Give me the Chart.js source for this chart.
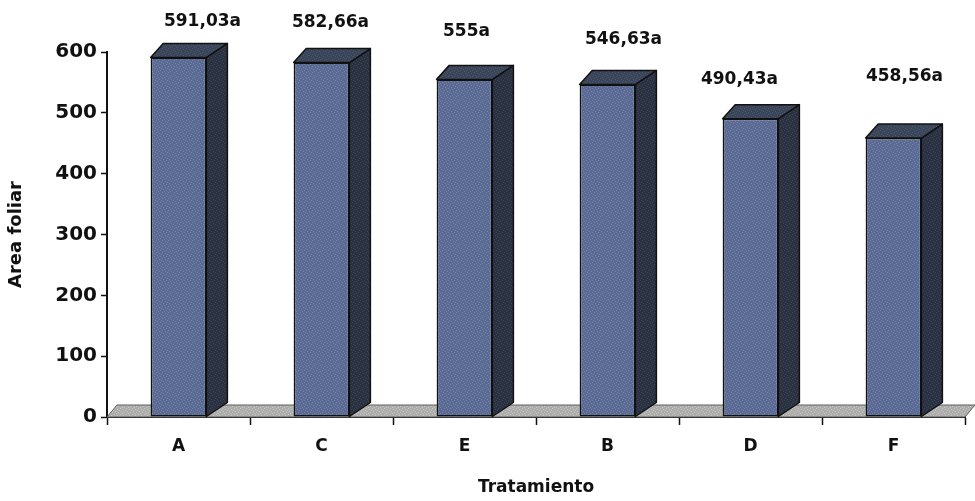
<!DOCTYPE html>
<html>
<head>
<meta charset="utf-8">
<script src="https://cdn.jsdelivr.net/npm/chart.js@4.4.1/dist/chart.umd.min.js"></script>
<style>
  html, body { margin: 0; padding: 0; background: #fff; }
  #wrap { width: 975px; height: 501px; }
</style>
</head>
<body>
<div id="wrap"><canvas id="chart"></canvas></div>
<script>
/* ── data ─────────────────────────────────────────────── */
const tratamientos = ["A", "C", "E", "B", "D", "F"];
const areaFoliar = [591.03, 582.66, 555, 546.63, 490.43, 458.56];
const letras = ["a", "a", "a", "a", "a", "a"];
const yTicks = [0, 100, 200, 300, 400, 500, 600];

const FONT = "'DejaVu Sans', 'Liberation Sans', Arial, sans-serif";

// "591,03a" style labels (comma decimal)
function fmtLabel(v, l) {
  return String(v).replace(".", ",") + l;
}

// small stippled fill so the faces aren't flat
function stipple(base, dot) {
  const c = document.createElement("canvas");
  c.width = 6;
  c.height = 6;
  const g = c.getContext("2d");
  g.fillStyle = base;
  g.fillRect(0, 0, 6, 6);
  g.fillStyle = dot;
  [[0, 0], [3, 1], [1, 3], [4, 4], [5, 2], [2, 5]].forEach(([x, y]) => g.fillRect(x, y, 1, 1));
  return g.createPattern(c, "repeat");
}

/* ── pseudo-3D: floor + side/top faces, value labels ─── */
const box3d = {
  id: "box3d",
  beforeDatasetsDraw(chart, args, opts) {
    const { ctx, chartArea } = chart;
    const yScale = chart.scales.y;
    const y0 = yScale.getPixelForValue(0);
    const fdx = opts.floorDx, fdy = opts.floorDy;

    ctx.save();
    // floor slab
    ctx.beginPath();
    ctx.moveTo(chartArea.left, y0);
    ctx.lineTo(chartArea.right, y0);
    ctx.lineTo(chartArea.right + fdx, y0 + fdy);
    ctx.lineTo(chartArea.left + fdx, y0 + fdy);
    ctx.closePath();
    ctx.fillStyle = stipple("#adadab", "#c8c8c6");
    ctx.fill();
    ctx.strokeStyle = "#5e5e5e";
    ctx.lineWidth = 1;
    ctx.stroke();

    // side + top faces of each bar
    const meta = chart.getDatasetMeta(0);
    const dx = opts.depthDx, dy = opts.depthDy;
    ctx.lineWidth = 1.5;
    ctx.strokeStyle = "#111";
    ctx.lineJoin = "round";
    meta.data.forEach((el) => {
      const p = el.getProps(["x", "y", "base", "width"], true);
      const l = p.x - p.width / 2, r = p.x + p.width / 2;
      // side
      ctx.beginPath();
      ctx.moveTo(r, p.y);
      ctx.lineTo(r + dx, p.y + dy);
      ctx.lineTo(r + dx, p.base + dy);
      ctx.lineTo(r, p.base);
      ctx.closePath();
      ctx.fillStyle = stipple("#2a3242", "#3a4456");
      ctx.fill();
      ctx.stroke();
      // top
      ctx.beginPath();
      ctx.moveTo(l, p.y);
      ctx.lineTo(l + dx * 0.6, p.y + dy);
      ctx.lineTo(r + dx, p.y + dy);
      ctx.lineTo(r, p.y);
      ctx.closePath();
      ctx.fillStyle = stipple("#3b4559", "#4c576c");
      ctx.fill();
      ctx.stroke();
    });
    ctx.restore();
  },
  afterDatasetsDraw(chart, args, opts) {
    const { ctx } = chart;
    const meta = chart.getDatasetMeta(0);
    ctx.save();
    ctx.font = "bold 17px " + FONT;
    ctx.fillStyle = "#111";
    ctx.textAlign = "center";
    ctx.textBaseline = "middle";
    meta.data.forEach((el, i) => {
      const nudge = opts.labelNudge[i];
      ctx.fillText(fmtLabel(areaFoliar[i], letras[i]), el.x + nudge[0], el.y - nudge[1]);
    });
    ctx.restore();
  },
};

new Chart(document.getElementById("chart"), {
  type: "bar",
  data: {
    labels: tratamientos,
    datasets: [
      {
        data: areaFoliar,
        backgroundColor: stipple("#5a6a92", "#7282a8"),
        borderColor: "#111",
        borderWidth: 1.5,
        borderSkipped: false,
        categoryPercentage: 1,
        barPercentage: 0.39,
      },
    ],
  },
  options: {
    responsive: true,
    maintainAspectRatio: false,
    animation: false,
    layout: { padding: { left: 2, top: 52, right: 10, bottom: 0 } },
    plugins: {
      legend: { display: false },
      tooltip: { enabled: false },
      box3d: {
        floorDx: 10,
        floorDy: -12,
        depthDx: 21,
        depthDy: -14,
        labelNudge: [[24, 36], [9, 40], [2, 48], [16, 45], [-11, 39], [11, 61]],
      },
    },
    scales: {
      x: {
        offset: true,
        grid: {
          offset: true,
          drawOnChartArea: false,
          color: "#111",
          tickLength: 8,
          tickWidth: 1.5,
        },
        border: { color: "#111", width: 2 },
        ticks: {
          color: "#111",
          padding: 11,
          font: { family: FONT, size: 17, weight: "bold" },
        },
        title: {
          display: true,
          text: "Tratamiento",
          color: "#111",
          padding: { top: 8, bottom: 3 },
          font: { family: FONT, size: 17, weight: "bold" },
        },
        afterFit(scale) { scale.height = 501 - 417; },
      },
      y: {
        min: 0,
        max: 600,
        afterBuildTicks(scale) { scale.ticks = yTicks.map((v) => ({ value: v })); },
        grid: {
          drawOnChartArea: false,
          color: "#111",
          tickLength: 6,
          tickWidth: 1.5,
        },
        border: { color: "#111", width: 2 },
        ticks: {
          color: "#111",
          padding: 4,
          font: { family: FONT, size: 20, weight: "bold" },
        },
        title: {
          display: true,
          text: "Area foliar",
          color: "#111",
          padding: { top: 4, bottom: 0 },
          font: { family: FONT, size: 18, weight: "bold" },
        },
        afterFit(scale) { scale.width = 107 - 2; },
      },
    },
  },
  plugins: [box3d],
});
</script>
</body>
</html>
